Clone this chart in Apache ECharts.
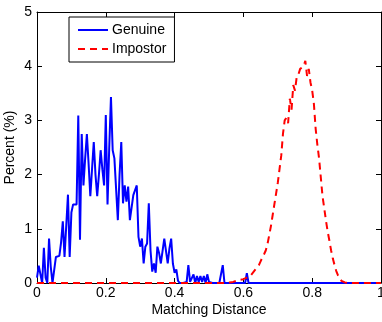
<!DOCTYPE html>
<html>
<head>
<meta charset="utf-8">
<script src="https://cdn.jsdelivr.net/npm/echarts@6/dist/echarts.min.js"></script>
<style>
  html, body { margin: 0; padding: 0; background: #fff; }
  #chart { width: 382px; height: 322px; }
</style>
</head>
<body>
<div id="chart"></div>
<script>
// Histogram bins of the matching distance, 0.005 wide, from 0 to 1
const binWidth = 0.005;

// Percent of genuine comparisons per bin
const genuineValues = [
  0.1, 0.32, 0.32, 0, 0.65, 0.1, 0, 0.82, 0.3, 0,
  0, 0.48, 0.48, 0.5, 0.75, 1.14, 0.48, 0.48, 1.63, 0.48,
  1.3, 1.45, 1.45, 1.45, 3.09, 0.8, 2.75, 1.8, 2.3, 2.75,
  2.2, 1.6, 2.1, 2.6, 2.0, 1.6, 2.0, 2.45, 2.1, 1.8,
  3.1, 1.45, 2.5, 3.43, 2.45, 2.3, 2.27, 1.16, 2.0, 2.6,
  1.47, 1.8, 1.5, 1.78, 1.16, 1.16, 1.62, 1.65, 1.8, 0.85,
  0.67, 0.82, 0.36, 0.67, 0.73, 1.47, 0.6, 0.21, 0.36, 0.19,
  0.67, 0.55, 0.36, 0.36, 0.82, 0.82, 0.36, 0.64, 0.82, 0.36,
  0.19, 0.25, 0.04, 0, 0.03, 0, 0, 0.02, 0.33, 0.02,
  0, 0.16, 0, 0.13, 0.02, 0.13, 0.02, 0.13, 0, 0.16,
  0.02, 0, 0, 0, 0, 0, 0, 0, 0.33, 0,
  0, 0, 0, 0, 0, 0, 0, 0, 0, 0,
  0, 0, 0.18, 0, 0, 0, 0, 0, 0, 0,
  0, 0, 0, 0, 0, 0, 0, 0, 0, 0,
  0, 0, 0, 0, 0, 0, 0, 0, 0, 0,
  0, 0, 0, 0, 0, 0, 0, 0, 0, 0,
  0, 0, 0, 0, 0, 0, 0, 0, 0, 0,
  0, 0, 0, 0, 0, 0, 0, 0, 0, 0,
  0, 0, 0, 0, 0, 0, 0, 0, 0, 0,
  0, 0, 0, 0, 0, 0, 0, 0, 0, 0,
  0
];

// Percent of impostor comparisons per bin
const impostorValues = [
  0, 0, 0, 0, 0, 0, 0, 0, 0, 0,
  0, 0, 0, 0, 0, 0, 0, 0, 0, 0,
  0, 0, 0, 0, 0, 0, 0, 0, 0, 0,
  0, 0, 0, 0, 0, 0, 0, 0, 0, 0,
  0, 0, 0, 0, 0, 0, 0, 0, 0, 0,
  0, 0, 0, 0, 0, 0, 0, 0, 0, 0,
  0, 0, 0, 0, 0, 0, 0, 0, 0, 0,
  0, 0, 0, 0, 0, 0, 0, 0, 0, 0,
  0, 0, 0, 0, 0, 0, 0, 0, 0, 0,
  0, 0, 0, 0, 0, 0, 0, 0, 0, 0,
  0, 0, 0, 0, 0, 0, 0, 0, 0, 0,
  0, 0, 0.01, 0.02, 0.02, 0.03, 0.04, 0.04, 0.06, 0.05,
  0.07, 0.09, 0.1, 0.12, 0.13, 0.17, 0.2, 0.25, 0.28, 0.33,
  0.4, 0.47, 0.53, 0.6, 0.72, 0.88, 1.05, 1.25, 1.45, 1.65,
  1.85, 2.1, 2.35, 2.75, 3.0, 3.05, 2.95, 3.4, 3.2, 3.65,
  3.55, 3.8, 3.85, 3.95, 3.95, 4.0, 4.1, 3.82, 3.95, 3.7,
  3.55, 3.3, 2.85, 2.55, 2.3, 1.95, 1.6, 1.38, 1.15, 0.95,
  0.78, 0.6, 0.45, 0.33, 0.22, 0.14, 0.08, 0.04, 0.02, 0.01,
  0, 0, 0, 0, 0, 0, 0, 0, 0, 0,
  0, 0, 0, 0, 0, 0, 0, 0, 0, 0,
  0
];

const seriesNames = ['Genuine', 'Impostor'];
const xTitle = 'Matching Distance';
const yTitle = 'Percent (%)';

function toPoints(values) {
  return values.map((v, i) => [+(i * binWidth).toFixed(3), v]);
}

const font = '"Liberation Sans", Arial, Helvetica, sans-serif';
const black = '#000';

const chart = echarts.init(document.getElementById('chart'), null, { renderer: 'canvas' });

const axisCommon = {
  axisLine: { show: true, onZero: false, lineStyle: { color: black, width: 1 } },
  axisTick: { show: true, inside: true, length: 5, lineStyle: { color: black } },
  splitLine: { show: false }
};

chart.setOption({
  animation: false,
  backgroundColor: '#fff',
  grid: { left: 37, right: 1, top: 12, bottom: 39, containLabel: false, outerBoundsMode: 'none' },
  legend: {
    left: 69, top: 17,
    orient: 'vertical',
    padding: [6, 8, 6, 8],
    itemWidth: 30, itemHeight: 14, itemGap: 5,
    borderColor: black, borderWidth: 1,
    backgroundColor: '#fff',
    itemStyle: { opacity: 0 },
    textStyle: { fontFamily: font, fontSize: 14, color: black, padding: [0, 0, 0, -1] },
    data: seriesNames
  },
  xAxis: [
    Object.assign({
      type: 'value', position: 'bottom',
      min: 0, max: 1, interval: 0.2,
      name: xTitle, nameLocation: 'middle', nameGap: 20, nameMoveOverlap: false,
      nameTextStyle: { fontFamily: font, fontSize: 14, color: black },
      axisLabel: { fontFamily: font, fontSize: 14, color: black, margin: 3 }
    }, axisCommon),
    Object.assign({
      type: 'value', position: 'top',
      min: 0, max: 1, interval: 0.2,
      axisLabel: { show: false }
    }, axisCommon)
  ],
  yAxis: [
    Object.assign({
      type: 'value', position: 'left',
      min: 0, max: 5, interval: 1,
      name: yTitle, nameLocation: 'middle', nameGap: 20, nameMoveOverlap: false,
      nameTextStyle: { fontFamily: font, fontSize: 14, color: black },
      axisLabel: { fontFamily: font, fontSize: 14, color: black, margin: 5 }
    }, axisCommon),
    Object.assign({
      type: 'value', position: 'right',
      min: 0, max: 5, interval: 1,
      axisLabel: { show: false }
    }, axisCommon)
  ],
  series: [
    {
      name: seriesNames[0], type: 'line',
      xAxisIndex: 0, yAxisIndex: 0,
      data: toPoints(genuineValues),
      showSymbol: false, symbol: 'none',
      lineStyle: { color: '#0000ff', width: 2 },
      itemStyle: { color: '#0000ff' },
      z: 2
    },
    {
      name: seriesNames[1], type: 'line',
      xAxisIndex: 0, yAxisIndex: 0,
      data: toPoints(impostorValues),
      showSymbol: false, symbol: 'none',
      lineStyle: { color: '#ff0000', width: 2, type: [7, 5] },
      itemStyle: { color: '#ff0000' },
      z: 3
    }
  ]
});
</script>
</body>
</html>
